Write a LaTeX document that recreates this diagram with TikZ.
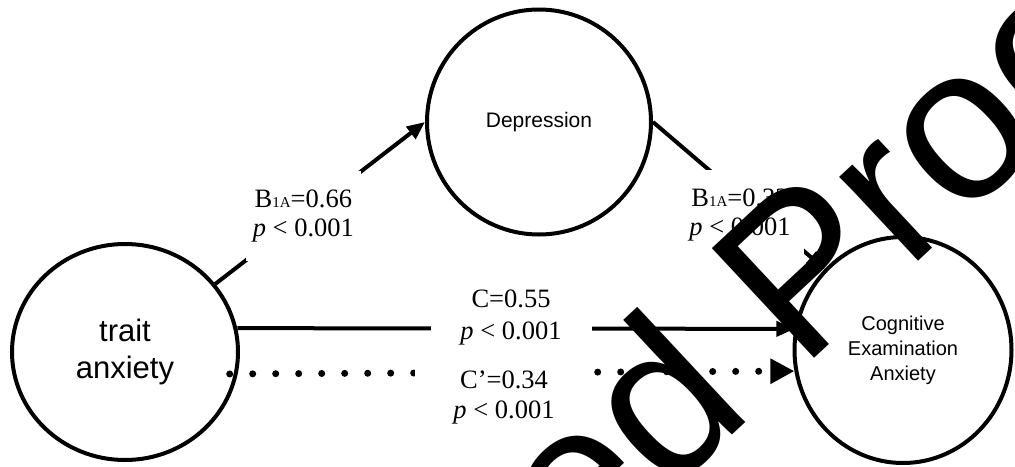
\documentclass[tikz,border=0pt]{standalone}
\usepackage{fontspec}
\setmainfont{Liberation Serif}
\newfontfamily\helv{Liberation Sans}
\usetikzlibrary{arrows.meta,shapes.geometric,calc}
\begin{document}
\begin{tikzpicture}[x=1pt,y=-1pt,
  var/.style={ellipse, draw, line width=4pt, inner sep=0pt, align=center},
  lab/.style={fill=white, inner sep=0pt, align=center},
  arr/.style={line width=4pt, -{Triangle[length=18pt,width=15pt]}},
  dotarr/.style={line width=7pt, line cap=round, dash pattern=on 0pt off 23pt, -{Triangle[length=24pt,width=24pt]}},
  labfont/.style={font=\fontsize{26.5}{28.5}\selectfont},
  wm/.style={rotate=43, inner sep=0pt, font=\helv\fontsize{218}{218}\selectfont}
]
\useasboundingbox (0,0) rectangle (1015,466);
\fill[white] (0,0) rectangle (1015,466);

\node[var, minimum width=226pt, minimum height=216pt, font=\helv\fontsize{31}{37}\selectfont] (trait) at (125,352) {trait\\anxiety};
\node[var, minimum width=224pt, minimum height=225pt, font=\helv\fontsize{21}{25}\selectfont] (dep) at (539,122) {Depression};
\node[var, minimum width=217pt, minimum height=226pt, font=\helv\fontsize{20}{25}\selectfont] (cea) at (903,350) {Cognitive\\Examination\\Anxiety};

% a path
\draw[arr] (trait.37) -- (dep.west)
  node[lab, labfont, pos=0.42, minimum width=115pt, minimum height=90pt] (la) {B{\fontsize{15}{15}\selectfont 1A}=0.66\\\textit{p} < 0.001};
% b path
\draw[arr] (dep.east) -- (cea.134);
\node[lab, labfont, minimum width=128pt, minimum height=90pt] (lb) at (740,215) {B{\fontsize{15}{15}\selectfont 1A}=0.32\\\textit{p} < 0.001};
% c path
\draw[arr] (trait.12) -- (cea.169);
\node[lab, font=\fontsize{26.5}{32}\selectfont, minimum width=161pt, minimum height=64pt] (lc) at (511,318) {C=0.55\\\textit{p} < 0.001};
% c' path
\draw[dotarr, shorten <=-8pt] (trait.-11) -- (cea.191);
\node[lab, font=\fontsize{26.5}{30}\selectfont, minimum width=178pt, minimum height=62pt] (lcp) at (504,398) {C’=0.34\\\textit{p} < 0.001};

% watermark
\begin{scope}
\clip (0,0) rectangle (1015,466);
\coordinate (wmb) at (801,371);
\node[wm, anchor=base west] (wmr) at (wmb) {Proof};
\node[wm, anchor=base east] (wml) at ($(wmb)+(-44.4,41.4)$) {Uncorrected};
\end{scope}
\end{tikzpicture}
\end{document}
